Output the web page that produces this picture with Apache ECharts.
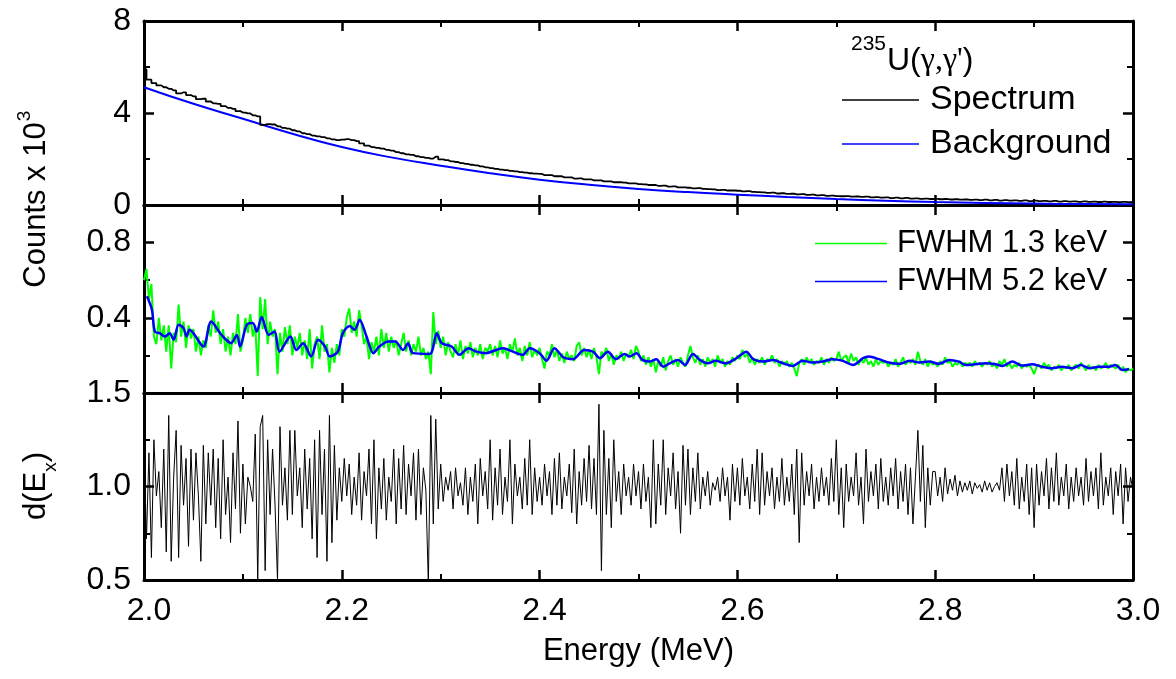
<!DOCTYPE html>
<html>
<head>
<meta charset="utf-8">
<script src="https://cdn.jsdelivr.net/npm/echarts@6/dist/echarts.min.js"></script>
<style>html,body{margin:0;padding:0;background:#fff}#c{width:1176px;height:679px}</style>
</head>
<body>
<div id="c"></div>
<script>
// ---------------- DATA ----------------
// Top panel: measured spectrum (counts x 10^3), 5 keV bins from 2.000 MeV
const spectrumStart = 2.0, spectrumStep = 0.005;
const spectrum = [
5.9,5.45,5.3,5.2,5.12,5.05,4.98,4.85,4.9,4.78,4.72,4.6,4.62,4.5,4.42,4.4,4.3,4.22,4.18,4.08,
4.02,3.98,3.9,3.85,3.48,3.52,3.5,3.42,3.35,3.32,3.25,3.2,3.12,3.08,3.02,2.98,2.95,2.9,2.85,2.82,
2.84,2.86,2.82,2.78,2.68,2.58,2.52,2.48,2.45,2.4,2.36,2.3,2.25,2.2,2.18,2.12,2.08,2.05,2.02,2.1,
1.98,1.95,1.9,1.87,1.82,1.79,1.75,1.72,1.68,1.64,1.6,1.57,1.54,1.52,1.48,1.46,1.43,1.41,1.38,1.36,
1.35,1.3,1.3,1.25,1.25,1.2,1.2,1.15,1.16,1.11,1.11,1.07,1.07,1.03,1.03,0.99,0.99,0.97,0.94,0.94,
0.91,0.9,0.87,0.87,0.83,0.84,0.8,0.81,0.77,0.77,0.75,0.72,0.73,0.7,0.69,0.68,0.65,0.66,0.63,0.63,
0.62,0.59,0.6,0.57,0.56,0.55,0.53,0.54,0.5,0.51,0.48,0.49,0.46,0.47,0.44,0.45,0.42,0.43,0.4,0.41,
0.39,0.38,0.39,0.36,0.37,0.35,0.36,0.33,0.34,0.32,0.33,0.3,0.32,0.29,0.31,0.28,0.29,0.27,0.28,0.26,
0.27,0.25,0.26,0.24,0.25,0.23,0.24,0.22,0.23,0.21,0.23,0.2,0.22,0.19,0.21,0.19,0.2,0.18,0.2,0.17,
0.19,0.17,0.18,0.16,0.18,0.15,0.17,0.15,0.16,0.14,0.16,0.14,0.15,0.13,0.15,0.13,0.14,0.12,0.14,0.12,
0.13];
// Top panel: background fit
const backgroundEnergy = [2.00,2.05,2.10,2.15,2.20,2.25,2.30,2.35,2.40,2.45,2.50,2.55,2.60,2.65,2.70,2.75,2.80,2.85,2.90,2.95,3.00];
const backgroundCounts = [5.12,4.4,3.75,3.1,2.52,2.07,1.71,1.38,1.1,0.88,0.70,0.56,0.45,0.35,0.26,0.19,0.13,0.09,0.06,0.04,0.03];

// Middle panel: FWHM 1.3 keV, 2.5 keV steps from 2.000 MeV
const fineStart = 2.0, fineStep = 0.0025;
const fwhm13 = [
0.6,0.66,0.5,0.58,0.3,0.26,0.4,0.28,0.36,0.22,0.36,0.13,0.32,0.27,0.47,0.3,0.38,0.24,0.36,0.29,
0.34,0.22,0.3,0.2,0.28,0.24,0.36,0.3,0.44,0.32,0.38,0.26,0.34,0.22,0.3,0.2,0.32,0.26,0.42,0.22,
0.28,0.4,0.32,0.42,0.3,0.36,0.09,0.51,0.34,0.5,0.26,0.38,0.3,0.34,0.1,0.32,0.22,0.35,0.26,0.36,
0.2,0.3,0.24,0.32,0.2,0.28,0.18,0.34,0.13,0.26,0.3,0.18,0.36,0.22,0.26,0.11,0.24,0.16,0.26,0.2,
0.34,0.3,0.4,0.45,0.32,0.38,0.3,0.44,0.36,0.26,0.3,0.18,0.27,0.22,0.3,0.2,0.34,0.24,0.32,0.22,
0.3,0.24,0.28,0.2,0.26,0.32,0.22,0.28,0.2,0.26,0.22,0.3,0.2,0.24,0.18,0.22,0.1,0.43,0.26,0.33,
0.24,0.3,0.2,0.27,0.22,0.19,0.26,0.2,0.28,0.18,0.25,0.21,0.27,0.19,0.24,0.2,0.26,0.18,0.24,0.22,
0.26,0.2,0.25,0.19,0.28,0.21,0.24,0.18,0.26,0.22,0.29,0.2,0.24,0.17,0.25,0.2,0.27,0.19,0.23,0.2,
0.24,0.18,0.13,0.22,0.2,0.26,0.19,0.23,0.17,0.21,0.16,0.22,0.18,0.2,0.17,0.25,0.27,0.2,0.24,0.19,
0.23,0.18,0.24,0.19,0.1,0.22,0.2,0.24,0.17,0.21,0.15,0.2,0.18,0.22,0.17,0.21,0.19,0.23,0.18,0.25,
0.22,0.17,0.2,0.15,0.19,0.14,0.18,0.11,0.17,0.14,0.19,0.12,0.17,0.2,0.15,0.18,0.14,0.19,0.16,0.14,
0.2,0.25,0.19,0.16,0.2,0.15,0.18,0.14,0.19,0.16,0.18,0.14,0.2,0.16,0.18,0.14,0.17,0.15,0.19,0.17,
0.2,0.18,0.23,0.19,0.21,0.16,0.19,0.15,0.18,0.16,0.19,0.15,0.18,0.17,0.2,0.16,0.18,0.14,0.17,0.15,
0.17,0.14,0.16,0.13,0.09,0.16,0.18,0.15,0.19,0.16,0.18,0.15,0.17,0.16,0.19,0.15,0.18,0.16,0.19,0.17,
0.18,0.22,0.17,0.19,0.2,0.16,0.21,0.17,0.19,0.15,0.18,0.16,0.19,0.15,0.17,0.14,0.18,0.15,0.17,0.16,
0.17,0.14,0.16,0.15,0.18,0.14,0.16,0.19,0.15,0.17,0.16,0.18,0.15,0.22,0.17,0.15,0.18,0.14,0.17,0.15,
0.16,0.14,0.17,0.15,0.19,0.16,0.17,0.14,0.16,0.15,0.17,0.14,0.16,0.15,0.16,0.14,0.17,0.15,0.16,0.14,
0.16,0.15,0.17,0.14,0.16,0.13,0.17,0.15,0.18,0.14,0.16,0.13,0.15,0.14,0.16,0.13,0.15,0.14,0.15,0.13,
0.1,0.14,0.15,0.13,0.16,0.14,0.15,0.12,0.14,0.13,0.15,0.12,0.14,0.13,0.15,0.12,0.14,0.15,0.13,0.16,
0.14,0.12,0.15,0.13,0.14,0.12,0.15,0.13,0.14,0.16,0.13,0.15,0.14,0.13,0.15,0.12,0.14,0.11,0.13,0.12,
0.13];
// Middle panel: FWHM 5.2 keV (energy, value)
const fwhm52Energy = [2.003,2.008,2.011,2.016,2.021,2.026,2.030,2.035,2.040,2.043,2.046,2.050,2.060,2.068,2.077,2.083,2.088,2.094,2.097,2.104,
2.110,2.114,2.119,2.126,2.132,2.137,2.148,2.154,2.161,2.169,2.176,2.183,2.188,2.196,2.201,2.208,2.213,2.218,2.225,2.232,
2.238,2.247,2.254,2.262,2.267,2.272,2.289,2.296,2.301,2.311,2.319,2.328,2.336,2.346,2.356,2.363,2.373,2.383,2.390,2.400,
2.407,2.415,2.424,2.434,2.445,2.454,2.461,2.469,2.477,2.486,2.491,2.498,2.504,2.511,2.518,2.525,2.533,2.540,2.547,2.555,
2.562,2.570,2.578,2.588,2.599,2.609,2.616,2.626,2.636,2.646,2.656,2.666,2.676,2.686,2.696,2.706,2.717,2.727,2.733,2.743,
2.753,2.764,2.774,2.784,2.794,2.804,2.814,2.824,2.831,2.841,2.851,2.861,2.868,2.878,2.888,2.898,2.908,2.918,2.928,2.939,
2.947,2.956,2.966,2.976,2.982,2.989,2.996];
const fwhm52Value = [0.514,0.443,0.327,0.318,0.300,0.318,0.283,0.363,0.345,0.300,0.336,0.318,0.247,0.380,0.318,0.283,0.265,0.309,0.247,0.363,
0.372,0.327,0.404,0.309,0.327,0.220,0.300,0.229,0.265,0.194,0.283,0.247,0.194,0.220,0.318,0.357,0.336,0.389,0.300,0.212,
0.247,0.274,0.274,0.229,0.265,0.212,0.208,0.318,0.265,0.247,0.203,0.238,0.220,0.212,0.229,0.238,0.220,0.203,0.238,0.212,
0.172,0.238,0.190,0.180,0.229,0.220,0.185,0.220,0.180,0.208,0.194,0.212,0.176,0.167,0.180,0.140,0.162,0.176,0.149,0.208,
0.176,0.158,0.171,0.158,0.185,0.220,0.180,0.167,0.176,0.158,0.144,0.172,0.162,0.167,0.180,0.172,0.149,0.185,0.194,0.180,
0.162,0.155,0.172,0.162,0.167,0.155,0.176,0.167,0.149,0.153,0.158,0.153,0.144,0.167,0.146,0.153,0.140,0.132,0.140,0.132,
0.149,0.132,0.140,0.140,0.149,0.123,0.126];

// Bottom panel: d(Ex), 2.5 keV steps from 2.000 MeV
const dEx = [
1.22,0.72,1.18,0.62,1.25,0.95,1.08,0.78,1.2,0.65,1.38,0.6,1.05,1.3,0.62,1.22,0.9,1.15,0.68,1.2,
0.82,1.18,0.95,0.6,1.22,0.8,1.18,0.9,1.2,0.78,1.15,0.72,1.25,0.85,1.05,0.7,1.18,0.88,1.35,0.75,
1.12,0.8,1.05,1.0,0.92,1.28,0.5,1.32,1.38,0.55,1.25,0.85,1.2,0.9,0.5,1.32,0.9,1.1,0.82,1.3,
0.85,1.3,0.95,1.1,0.78,1.2,0.88,1.15,0.72,1.25,0.62,1.3,0.85,1.2,0.6,1.38,0.7,1.22,0.82,1.1,
0.92,1.15,0.95,1.12,0.85,1.05,0.9,1.18,0.82,1.08,0.95,1.2,0.8,1.25,0.72,1.1,0.88,1.15,0.82,1.05,
0.92,1.2,0.8,1.15,0.88,1.22,0.85,1.12,0.95,1.18,0.82,1.2,0.85,1.1,0.98,0.48,1.38,0.8,1.36,0.88,
1.12,0.92,1.05,0.98,1.08,0.88,1.1,0.95,1.02,0.9,1.1,0.85,1.05,0.92,1.12,0.8,1.15,0.95,1.08,0.88,
1.25,0.82,1.1,0.9,1.2,0.85,1.05,0.92,1.25,0.8,1.12,0.95,1.05,0.88,1.15,0.9,1.25,0.85,1.1,0.92,
1.05,0.9,1.12,0.95,1.08,0.85,1.15,0.9,1.18,0.88,1.05,0.95,1.12,0.86,1.2,0.8,1.08,0.9,1.15,0.92,
1.22,0.88,1.15,0.85,1.44,0.55,1.3,0.85,1.15,0.78,1.25,0.92,1.08,0.85,1.12,0.95,1.05,0.9,1.12,0.95,
1.08,0.88,1.12,0.92,1.05,0.78,1.25,0.8,1.12,0.9,1.25,0.85,1.1,0.95,1.18,0.88,1.08,0.75,1.22,0.9,
1.2,0.85,1.1,0.92,1.18,0.88,1.05,0.95,1.08,0.9,1.02,0.98,1.05,0.92,1.1,0.95,1.05,0.82,1.12,0.92,
1.1,0.9,1.15,0.95,1.05,0.88,1.12,0.92,1.2,0.85,1.18,0.9,1.08,0.95,1.1,0.88,1.05,0.92,1.15,0.9,
1.05,0.92,1.12,0.85,1.2,0.7,1.18,0.9,1.08,0.95,1.12,0.88,1.05,0.92,1.1,0.95,1.05,0.9,1.15,0.92,
1.25,0.85,1.1,0.78,1.12,0.92,1.05,0.95,1.18,0.9,1.05,0.8,1.2,0.92,1.08,0.95,1.12,0.88,1.15,0.92,
1.05,0.9,1.1,0.95,1.15,0.88,1.08,0.92,1.12,0.85,1.1,0.8,1.05,1.3,0.92,1.22,0.78,1.1,0.9,1.08,
1.08,0.95,1.05,0.92,1.1,0.96,1.04,0.98,1.06,0.95,1.03,0.97,1.02,0.98,1.03,0.96,1.02,0.99,1.01,0.97,
1.03,0.98,1.02,0.97,1.0,1.02,0.98,1.1,0.92,1.12,0.95,1.08,0.9,1.15,0.88,1.05,0.92,1.12,0.85,1.1,
0.78,1.12,0.9,1.08,0.95,1.15,0.88,1.1,0.92,1.18,0.9,1.05,0.95,1.12,0.88,1.05,0.92,1.1,0.95,1.05,
0.9,1.15,0.92,1.08,0.95,1.1,0.88,1.18,0.9,1.05,0.95,1.1,0.85,1.08,0.95,1.12,0.8,1.1,0.92,1.05,
0.98];

// Axis tick labels
const xTicks = [2.0, 2.2, 2.4, 2.6, 2.8, 3.0];
const yTicksTop = [0, 4, 8];
const yTicksMid = [0.4, 0.8];
const yTicksBot = [0.5, 1.0, 1.5];

// ---------------- CHART ----------------
const FONT = 'Liberation Sans, Arial, sans-serif';
const pairs = (start, step, vals) => vals.map((v, i) => [Math.round((start + i * step) * 10000) / 10000, v]);
const zip = (xs, ys) => xs.map((x, i) => [x, ys[i]]);
const inList = (v, list) => list.some(t => Math.abs(t - v) < 1e-6);

const axisLineStyle = { show: true, onZero: false, lineStyle: { color: '#000', width: 3 } };
const tickStyle = { show: true, inside: true, length: 10, lineStyle: { color: '#000', width: 2.5 } };
const minorStyle = { show: true, splitNumber: 2, length: 6, lineStyle: { color: '#000', width: 2 } };

const grids = [
  { left: 144, right: 43, top: 21, height: 184 },
  { left: 144, right: 43, top: 205, height: 188 },
  { left: 144, right: 43, top: 393, height: 187 }
];
const xAxes = [], yAxes = [];
const yCfg = [
  { min: 0, max: 8, interval: 4, ticks: yTicksTop, fmt: v => String(Math.round(v)) },
  { min: 0, max: 1.0, interval: 0.4, ticks: yTicksMid, fmt: v => v.toFixed(1) },
  { min: 0.5, max: 1.5, interval: 0.5, ticks: yTicksBot, fmt: v => v.toFixed(1) }
];
for (let k = 0; k < 3; k++) {
  ['bottom', 'top'].forEach(pos => {
    const showLab = (k === 2 && pos === 'bottom');
    xAxes.push({
      gridIndex: k, type: 'value', position: pos, min: 2.0, max: 3.0, interval: 0.2,
      axisLine: axisLineStyle, axisTick: tickStyle, minorTick: minorStyle,
      splitLine: { show: false }, minorSplitLine: { show: false },
      axisLabel: {
        show: showLab, margin: 15, fontSize: 32, color: '#000', fontFamily: FONT,
        padding: [0, 0, 0, 10],
        formatter: v => inList(v, xTicks) ? v.toFixed(1) : ''
      },
      name: showLab ? 'Energy (MeV)' : '', nameLocation: 'middle', nameGap: 56,
      nameTextStyle: { fontSize: 31, color: '#000', fontFamily: FONT }
    });
  });
  ['left', 'right'].forEach(pos => {
    const c = yCfg[k];
    yAxes.push({
      gridIndex: k, type: 'value', position: pos, min: c.min, max: c.max, interval: c.interval,
      axisLine: axisLineStyle, axisTick: tickStyle, minorTick: minorStyle,
      splitLine: { show: false }, minorSplitLine: { show: false },
      axisLabel: {
        show: pos === 'left', margin: 13, fontSize: 32, color: '#000', fontFamily: FONT,
        formatter: v => inList(v, c.ticks) ? c.fmt(v) : ''
      }
    });
  });
}

const option = {
  backgroundColor: '#fff',
  animation: false,
  grid: grids,
  xAxis: xAxes,
  yAxis: yAxes,
  legend: [
    {
      orient: 'vertical', left: 837, top: 78, padding: 5, itemWidth: 77, itemHeight: 14, itemGap: 10,
      data: ['Spectrum', 'Background'], icon: 'path://M0,0 L77,0 L77,1.6 L0,1.6 Z',
      textStyle: { fontSize: 34, color: '#000', fontFamily: FONT, padding: [0, 0, 0, 6] }
    },
    {
      orient: 'vertical', left: 810, top: 223, padding: 5, itemWidth: 72, itemHeight: 14, itemGap: 7,
      data: ['FWHM 1.3 keV', 'FWHM 5.2 keV'], icon: 'path://M0,0 L72,0 L72,1.6 L0,1.6 Z',
      textStyle: { fontSize: 31, color: '#000', fontFamily: FONT, padding: [0, 0, 0, 5] }
    }
  ],
  graphic: [
    { type: 'text', x: 36, y: 205, rotation: Math.PI / 2,
      style: { text: 'Counts x 10', font: '31px ' + FONT, fill: '#000', align: 'center', verticalAlign: 'middle' } },
    { type: 'text', x: 25, y: 116, rotation: Math.PI / 2,
      style: { text: '3', font: '19px ' + FONT, fill: '#000', align: 'center', verticalAlign: 'middle' } },
    { type: 'text', x: 36, y: 496, rotation: Math.PI / 2,
      style: { text: 'd(E', font: '31px ' + FONT, fill: '#000', align: 'center', verticalAlign: 'middle' } },
    { type: 'text', x: 51, y: 467, rotation: Math.PI / 2,
      style: { text: 'x', font: '19px ' + FONT, fill: '#000', align: 'center', verticalAlign: 'middle' } },
    { type: 'text', x: 36, y: 457, rotation: Math.PI / 2,
      style: { text: ')', font: '31px ' + FONT, fill: '#000', align: 'center', verticalAlign: 'middle' } },
    { type: 'text', x: 851, y: 44,
      style: { text: '235', font: '21px ' + FONT, fill: '#000', align: 'left', verticalAlign: 'middle' } },
    { type: 'text', x: 887, y: 61,
      style: { text: '{a|U(}{b|γ,γ\'}{a|)}', align: 'left', verticalAlign: 'middle',
        rich: { a: { fontSize: 32, fontFamily: FONT, color: '#000' },
                b: { fontSize: 32, fontFamily: 'Liberation Serif, serif', color: '#000' } } } }
  ],
  series: [
    { name: 'Spectrum', type: 'line', xAxisIndex: 0, yAxisIndex: 0, step: 'middle', symbol: 'none',
      data: pairs(spectrumStart, spectrumStep, spectrum), lineStyle: { color: '#000', width: 1.8 }, itemStyle: { color: '#000' }, z: 3 },
    { name: 'Background', type: 'line', xAxisIndex: 0, yAxisIndex: 0, smooth: true, symbol: 'none',
      data: zip(backgroundEnergy, backgroundCounts), lineStyle: { color: '#0000ff', width: 2 }, itemStyle: { color: '#0000ff' }, z: 2 },
    { name: 'FWHM 1.3 keV', type: 'line', xAxisIndex: 2, yAxisIndex: 2, symbol: 'none',
      data: pairs(fineStart, fineStep, fwhm13), lineStyle: { color: '#00ff00', width: 2 }, itemStyle: { color: '#00ff00' } },
    { name: 'FWHM 5.2 keV', type: 'line', xAxisIndex: 2, yAxisIndex: 2, smooth: 0.3, symbol: 'none',
      data: zip(fwhm52Energy, fwhm52Value), lineStyle: { color: '#0000ff', width: 2.5 }, itemStyle: { color: '#0000ff' } },
    { name: 'd(Ex)', type: 'line', xAxisIndex: 4, yAxisIndex: 4, symbol: 'none',
      data: pairs(fineStart, fineStep, dEx), lineStyle: { color: '#000', width: 1 }, itemStyle: { color: '#000' } }
  ]
};
const chart = echarts.init(document.getElementById('c'), null, { renderer: 'canvas' });
chart.setOption(option);
</script>
</body>
</html>
